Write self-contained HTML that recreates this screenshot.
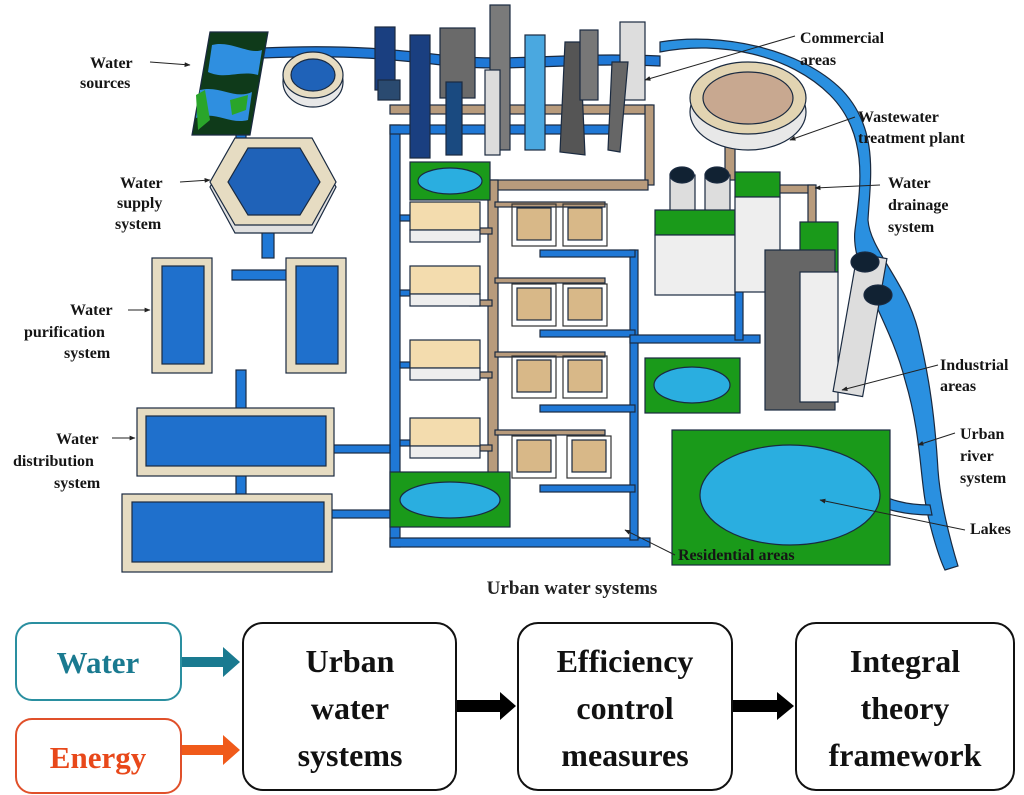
<!DOCTYPE html>
<html><head><meta charset="utf-8"><style>
html,body{margin:0;padding:0;background:#fff;}
svg{display:block;}
.l{font-family:"Liberation Serif",serif;font-weight:bold;font-size:16px;fill:#151515;}
.b{font-family:"Liberation Serif",serif;font-weight:bold;}
</style></head><body>
<svg width="1024" height="795" viewBox="0 0 1024 795" xmlns="http://www.w3.org/2000/svg">
<defs>
<marker id="ah" viewBox="0 0 10 10" refX="9" refY="5" markerWidth="6" markerHeight="6" orient="auto"><path d="M0,1 L10,5 L0,9z" fill="#222"/></marker>
</defs>
<g stroke="#1a2a40" stroke-width="1.2">
<g fill="#1f78d6">
<path d="M262,48 C350,44 400,50 450,56 C520,62 560,52 660,56 L660,66 C560,62 520,72 450,66 C400,60 350,54 262,58z"/>
<rect x="236" y="100" width="10" height="40"/>
<rect x="262" y="228" width="12" height="30"/>
<rect x="232" y="270" width="60" height="10"/>
<rect x="236" y="370" width="10" height="40"/>
<rect x="236" y="475" width="10" height="20"/>
<rect x="390" y="125" width="10" height="422"/>
<rect x="390" y="125" width="230" height="9"/>
<rect x="390" y="538" width="260" height="9"/>
<rect x="330" y="445" width="60" height="8"/>
<rect x="330" y="510" width="60" height="8"/>
<rect x="400" y="215" width="10" height="6"/><rect x="400" y="290" width="10" height="6"/><rect x="400" y="362" width="10" height="6"/><rect x="400" y="440" width="10" height="6"/>
<rect x="630" y="250" width="8" height="290"/>
<rect x="540" y="250" width="95" height="7"/>
<rect x="540" y="330" width="95" height="7"/>
<rect x="540" y="405" width="95" height="7"/>
<rect x="540" y="485" width="95" height="7"/>
<rect x="630" y="335" width="130" height="8"/>
<rect x="735" y="280" width="8" height="60"/>
</g>
<g fill="#b89b7c">
<rect x="390" y="105" width="262" height="9"/>
<rect x="645" y="105" width="9" height="80"/>
<rect x="488" y="180" width="160" height="10"/>
<rect x="488" y="180" width="10" height="300"/>
<rect x="470" y="228" width="22" height="6"/><rect x="470" y="300" width="22" height="6"/><rect x="470" y="372" width="22" height="6"/><rect x="470" y="445" width="22" height="6"/>
<rect x="495" y="202" width="110" height="5"/><rect x="495" y="278" width="110" height="5"/><rect x="495" y="352" width="110" height="5"/><rect x="495" y="430" width="110" height="5"/>
<rect x="720" y="122" width="65" height="10"/>
<rect x="765" y="185" width="50" height="8"/><rect x="808" y="185" width="8" height="40"/>
<rect x="725" y="140" width="10" height="40"/>
</g>
<path d="M660,52 C720,40 790,55 830,95 C870,135 860,190 855,230 C850,270 890,320 905,380 C920,430 920,470 925,500 C930,530 940,560 945,570 L958,566 C950,540 940,500 938,470 C935,420 930,380 918,330 C905,280 870,250 868,220 C870,180 880,130 842,90 C800,48 720,32 660,42z" fill="#2a90e0"/>
<path d="M870,490 C890,500 905,505 930,505 L932,515 C905,515 885,510 865,500z" fill="#2a90e0"/>
<polygon points="210,32 268,32 250,135 192,135" fill="#0f3a1a"/>
<path d="M212,45 C230,40 250,55 262,50 L258,75 C240,70 225,80 208,72z M200,90 C220,85 235,100 252,92 L248,120 C230,125 215,110 196,118z" fill="#2f8fe0" stroke="none"/>
<path d="M196,95 L205,90 L210,120 L198,130z M230,100 L248,95 L246,110 L232,115z" fill="#2aa52a" stroke="none"/>
<ellipse cx="313" cy="82" rx="30" ry="25" fill="#e8e8e8"/>
<ellipse cx="313" cy="75" rx="30" ry="23" fill="#e6dcc2"/>
<ellipse cx="313" cy="75" rx="22" ry="16" fill="#1f62b8"/>
<polygon points="235,142 312,142 336,187 312,233 235,233 210,187" fill="#e0e0e0"/>
<polygon points="235,138 312,138 336,182 312,225 235,225 210,182" fill="#e6dcc2"/>
<polygon points="248,148 300,148 320,182 300,215 248,215 228,182" fill="#1f62b8"/>
<rect x="152" y="258" width="60" height="115" fill="#e6dcc2"/><rect x="162" y="266" width="42" height="98" fill="#1f70cc"/>
<rect x="286" y="258" width="60" height="115" fill="#e6dcc2"/><rect x="296" y="266" width="42" height="98" fill="#1f70cc"/>
<rect x="137" y="408" width="197" height="68" fill="#e6dcc2"/><rect x="146" y="416" width="180" height="50" fill="#1f70cc"/>
<rect x="122" y="494" width="210" height="78" fill="#e6dcc2"/><rect x="132" y="502" width="192" height="60" fill="#1f70cc"/>
<rect x="375" y="27" width="20" height="63" fill="#1a3f80"/>
<rect x="378" y="80" width="22" height="20" fill="#2a4a70"/>
<rect x="410" y="35" width="20" height="123" fill="#1a3f80"/>
<rect x="440" y="28" width="35" height="70" fill="#6a6a6a"/>
<rect x="446" y="82" width="16" height="73" fill="#1a4a80"/>
<rect x="490" y="5" width="20" height="145" fill="#7a7a7a"/>
<rect x="485" y="70" width="15" height="85" fill="#dcdcdc"/>
<rect x="525" y="35" width="20" height="115" fill="#4aa8e0"/>
<polygon points="565,42 580,42 585,155 560,152" fill="#555"/>
<rect x="580" y="30" width="18" height="70" fill="#777"/>
<rect x="620" y="22" width="25" height="78" fill="#ddd"/>
<polygon points="612,62 628,62 620,152 608,150" fill="#666"/>
<rect x="410" y="162" width="80" height="38" fill="#1a9a1a"/><ellipse cx="450" cy="181" rx="32" ry="13" fill="#2aaee0"/>
<rect x="390" y="472" width="120" height="55" fill="#1a9a1a"/><ellipse cx="450" cy="500" rx="50" ry="18" fill="#2aaee0"/>
<rect x="645" y="358" width="95" height="55" fill="#1a9a1a"/><ellipse cx="692" cy="385" rx="38" ry="18" fill="#2aaee0"/>
<rect x="672" y="430" width="218" height="135" fill="#1a9a1a"/><ellipse cx="790" cy="495" rx="90" ry="50" fill="#2aaee0"/>
<g fill="#f3dcae">
<rect x="410" y="202" width="70" height="28"/><rect x="410" y="266" width="70" height="28"/><rect x="410" y="340" width="70" height="28"/><rect x="410" y="418" width="70" height="28"/>
</g>
<g fill="#eee"><rect x="410" y="230" width="70" height="12"/><rect x="410" y="294" width="70" height="12"/><rect x="410" y="368" width="70" height="12"/><rect x="410" y="446" width="70" height="12"/></g>
<g fill="none" stroke="#333"><rect x="512" y="204" width="44" height="42"/><rect x="563" y="204" width="44" height="42"/><rect x="512" y="284" width="44" height="42"/><rect x="563" y="284" width="44" height="42"/><rect x="512" y="356" width="44" height="42"/><rect x="563" y="356" width="44" height="42"/><rect x="512" y="436" width="44" height="42"/><rect x="567" y="436" width="44" height="42"/></g>
<g fill="#d8b888">
<rect x="517" y="208" width="34" height="32"/><rect x="568" y="208" width="34" height="32"/>
<rect x="517" y="288" width="34" height="32"/><rect x="568" y="288" width="34" height="32"/>
<rect x="517" y="360" width="34" height="32"/><rect x="568" y="360" width="34" height="32"/>
<rect x="517" y="440" width="34" height="32"/><rect x="572" y="440" width="34" height="32"/>
</g>
<ellipse cx="748" cy="112" rx="58" ry="38" fill="#e8e8e8"/>
<ellipse cx="748" cy="98" rx="58" ry="36" fill="#e2d4b2"/>
<ellipse cx="748" cy="98" rx="45" ry="26" fill="#c8a890"/>
<rect x="670" y="175" width="25" height="50" fill="#ddd"/><rect x="705" y="175" width="25" height="50" fill="#ddd"/>
<ellipse cx="682" cy="175" rx="12" ry="8" fill="#123"/><ellipse cx="717" cy="175" rx="12" ry="8" fill="#123"/>
<rect x="655" y="210" width="80" height="25" fill="#1a9a1a"/>
<rect x="655" y="235" width="80" height="60" fill="#eee"/>
<rect x="735" y="172" width="45" height="25" fill="#1a9a1a"/>
<rect x="735" y="197" width="45" height="95" fill="#eee"/>
<rect x="800" y="222" width="38" height="50" fill="#1a9a1a"/>
<rect x="765" y="250" width="70" height="160" fill="#666"/>
<rect x="800" y="272" width="38" height="130" fill="#eee"/>
<rect x="845" y="255" width="30" height="140" fill="#ddd" transform="rotate(10 860 325)"/>
<ellipse cx="865" cy="262" rx="14" ry="10" fill="#123"/><ellipse cx="878" cy="295" rx="14" ry="10" fill="#123"/>
</g>
<g class="l">
<text x="90" y="68">Water</text><text x="80" y="88">sources</text>
<text x="120" y="188">Water</text><text x="117" y="208">supply</text><text x="115" y="229">system</text>
<text x="70" y="315">Water</text><text x="24" y="337">purification</text><text x="64" y="358">system</text>
<text x="56" y="444">Water</text><text x="13" y="466">distribution</text><text x="54" y="488">system</text>
<text x="800" y="43">Commercial</text><text x="800" y="65">areas</text>
<text x="858" y="122">Wastewater</text><text x="858" y="143">treatment plant</text>
<text x="888" y="188">Water</text><text x="888" y="210">drainage</text><text x="888" y="232">system</text>
<text x="940" y="370">Industrial</text><text x="940" y="391">areas</text>
<text x="960" y="439">Urban</text><text x="960" y="461">river</text><text x="960" y="483">system</text>
<text x="970" y="534">Lakes</text>
<text x="678" y="560">Residential areas</text>
</g>
<g stroke="#222" stroke-width="1" fill="none" marker-end="url(#ah)">
<line x1="150" y1="62" x2="190" y2="65"/>
<line x1="180" y1="182" x2="210" y2="180"/>
<line x1="128" y1="310" x2="150" y2="310"/>
<line x1="112" y1="438" x2="135" y2="438"/>
<line x1="795" y1="36" x2="645" y2="80"/>
<line x1="855" y1="117" x2="790" y2="140"/>
<line x1="880" y1="185" x2="815" y2="188"/>
<line x1="938" y1="365" x2="842" y2="390"/>
<line x1="955" y1="433" x2="918" y2="445"/>
<line x1="965" y1="530" x2="820" y2="500"/>
<line x1="675" y1="555" x2="625" y2="530"/>
</g>
<text x="572" y="594" text-anchor="middle" class="b" font-size="19" fill="#222">Urban water systems</text>
<rect x="16" y="623" width="165" height="77" rx="16" fill="#fff" stroke="#2a8fa0" stroke-width="2"/>
<text x="98" y="673" text-anchor="middle" class="b" font-size="31" fill="#1a7a90">Water</text>
<rect x="16" y="719" width="165" height="74" rx="16" fill="#fff" stroke="#e0502a" stroke-width="2"/>
<text x="98" y="768" text-anchor="middle" class="b" font-size="31" fill="#e8481a">Energy</text>
<polygon points="182,657 223,657 223,647 240,662 223,677 223,667 182,667" fill="#1a7a90"/>
<polygon points="182,745 223,745 223,735 240,750 223,765 223,755 182,755" fill="#f05a1a"/>
<g fill="#fff" stroke="#111" stroke-width="2">
<rect x="243" y="623" width="213" height="167" rx="20"/>
<rect x="518" y="623" width="214" height="167" rx="20"/>
<rect x="796" y="623" width="218" height="167" rx="20"/>
</g>
<polygon points="457,700 500,700 500,692 516,706 500,720 500,712 457,712" fill="#000"/>
<polygon points="733,700 777,700 777,692 794,706 777,720 777,712 733,712" fill="#000"/>
<g class="b" font-size="32" fill="#111" text-anchor="middle">
<text x="350" y="672">Urban</text><text x="350" y="719">water</text><text x="350" y="766">systems</text>
<text x="625" y="672">Efficiency</text><text x="625" y="719">control</text><text x="625" y="766">measures</text>
<text x="905" y="672">Integral</text><text x="905" y="719">theory</text><text x="905" y="766">framework</text>
</g>
</svg>
</body></html>
